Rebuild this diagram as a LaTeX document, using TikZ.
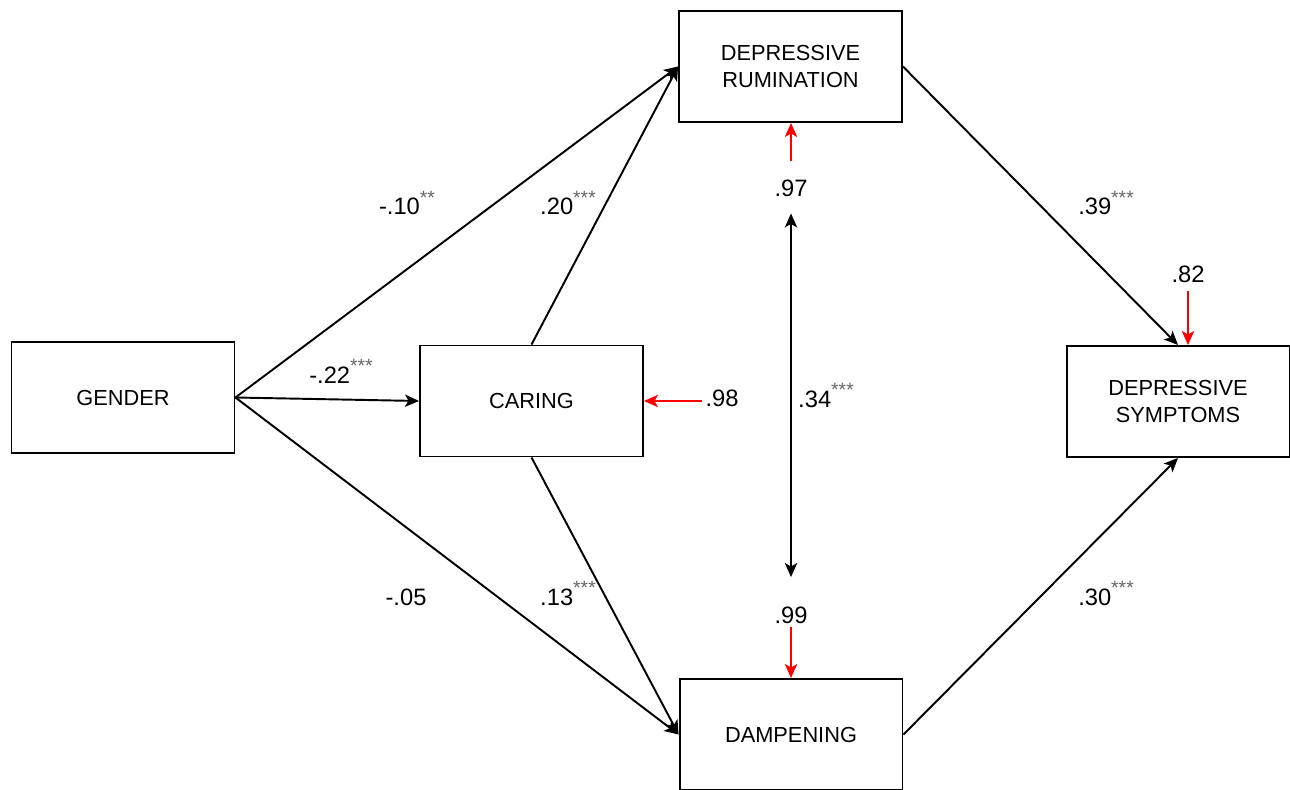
\documentclass[tikz,border=0pt]{standalone}
\usepackage{fontspec}
\setmainfont{Liberation Sans}
\usetikzlibrary{arrows.meta}
\newcommand{\stars}[1]{\raisebox{0.45em}{\fontsize{11}{11}\selectfont\color{black!60}#1}}

\begin{document}
\begin{tikzpicture}
        [x=0.02cm, y=-0.02cm,
        var/.style={rectangle, draw, line width=1.1pt, minimum width=4.46cm, minimum height=2.22cm, align=center, font=\fontsize{12.4}{15}\selectfont},
        coef/.style={anchor=base, inner sep=2pt, font=\fontsize{13.5}{16}\selectfont},
        effect/.style={black, line width=1.1pt, -{Stealth[length=8pt, width=7pt, inset=2pt]}},
        resid/.style={red, line width=1.1pt, -{Stealth[length=8pt, width=7pt, inset=2pt]}},
        corr/.style={black, line width=1.1pt, {Stealth[length=8pt, width=7pt, inset=2pt]}-{Stealth[length=8pt, width=7pt, inset=2pt]}}]

        \useasboundingbox (0,0) rectangle (1290,790);

        \node[var] (gender) at (123,397.5) {GENDER};
        \node[var] (caring) at (531.5,401) {CARING};
        \node[var] (rum) at (790.5,66.5) {DEPRESSIVE\\RUMINATION};
        \node[var] (damp) at (791,734.5) {DAMPENING};
        \node[var] (symp) at (1178,401.5) {DEPRESSIVE\\SYMPTOMS};

        % residual terms
        \node[coef] (erum) at (791,197) {.97};
        \node[coef] (edamp) at (791,623) {.99};
        \node[coef] (ecaring) at (722,406) {.98};
        \node[coef] (esymp) at (1188,282) {.82};

        % paths
        \draw[effect] (gender.east) -- (rum.west);
        \draw[effect] (gender.east) -- (caring.west);
        \draw[effect] (gender.east) -- (damp.west);
        \draw[effect] (caring.north) -- (rum.west);
        \draw[effect] (caring.south) -- (damp.west);
        \draw[effect] (rum.east) -- (symp.north);
        \draw[effect] (damp.east) -- (symp.south);

        % residuals (red)
        \draw[resid, shorten <=9pt] (erum.north) -- (erum.north |- rum.south);
        \draw[resid] (edamp.south) -- (edamp.south |- damp.north);
        \draw[resid] (ecaring.west |- caring.east) -- (caring.east);
        \draw[resid, shorten <=3pt] (esymp.south) -- (esymp.south |- symp.north);

        % correlation of residuals
        \draw[corr, shorten <=7pt, shorten >=14.5pt] (erum.south) -- (edamp.north);

        % coefficients
        \node[coef] at (407,215) {-.10\stars{**}};
        \node[coef] at (568,215) {.20\stars{***}};
        \node[coef] at (341,383) {-.22\stars{***}};
        \node[coef] at (406,605) {-.05};
        \node[coef] at (568,605) {.13\stars{***}};
        \node[coef] at (1106,215) {.39\stars{***}};
        \node[coef] at (1106,605) {.30\stars{***}};
        \node[coef] at (826,407) {.34\stars{***}};

\end{tikzpicture}
\end{document}
